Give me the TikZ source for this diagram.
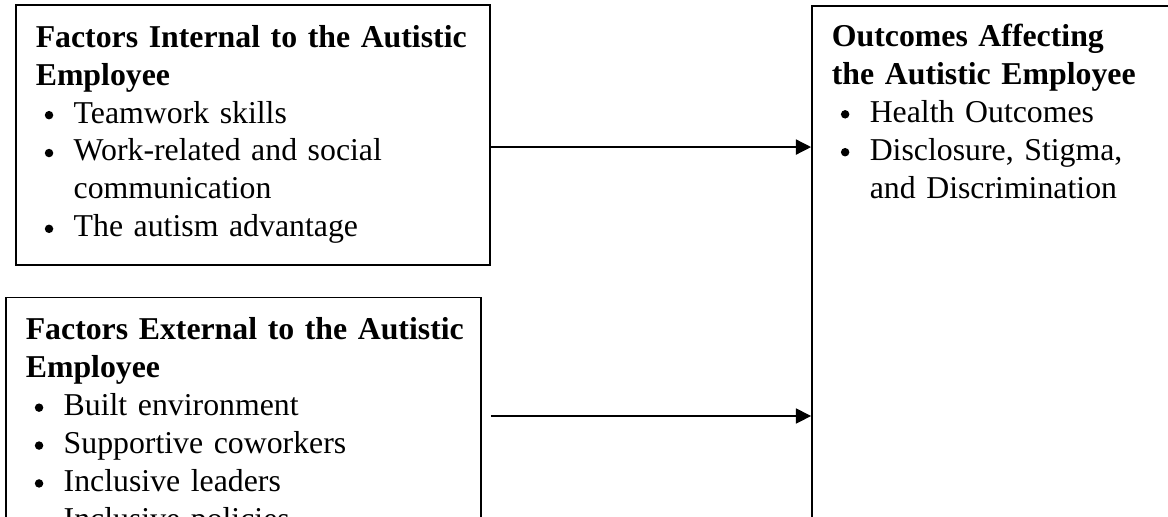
\documentclass[tikz,border=0pt]{standalone}
\usepackage{fontspec}
\setmainfont{Liberation Serif}
\usetikzlibrary{arrows.meta}
\setlength{\parindent}{0pt}

% bullet line with hanging indent
\newcommand{\bitem}[1]{\par\noindent\hangindent=14.3pt\hangafter=1%
  \hspace*{3.4pt}\makebox[10.9pt][l]{\tikz[baseline=0pt]\fill (1.6pt,3pt) circle (1.6pt);}#1\par}
\newcommand{\boxhead}[1]{\textbf{#1}}
\newcommand{\nohyph}{\hyphenpenalty=10000\relax}

\tikzset{
  factbox/.style={draw, line width=0.7pt, anchor=north west,
    inner xsep=7.5pt, inner ysep=0pt, text height=16pt,
    execute at begin node={\raggedright\nohyph},
    font=\fontsize{12pt}{14.3pt}\selectfont},
  arr/.style={-{Triangle[length=5.7pt,width=5.7pt]}, line width=0.5pt}
}

\begin{document}
\begin{tikzpicture}[x=1pt,y=-1pt]
  \useasboundingbox (0,0) rectangle (440.8,195.1);
  \clip (0,0) rectangle (440.8,195.1);

  % boxes
  \node[factbox, text width=163.9pt, text depth=82pt] (internal) at (5.66,1.51) {%
    \boxhead{\mbox{Factors Internal to the Autistic}\newline Employee}
    \bitem{Teamwork skills}
    \bitem{Work-related and social\newline communication}
    \bitem{The autism advantage}};
  \node[factbox, text width=164.2pt, text depth=90pt] (external) at (1.89,111.9) {%
    \boxhead{\mbox{Factors External to the Autistic}\newline Employee}
    \bitem{Built environment}
    \bitem{Supportive coworkers}
    \bitem{Inclusive leaders}
    \bitem{Inclusive policies}};
  \node[factbox, text width=150pt, text height=15.3pt, text depth=200pt] (outcomes) at (306.1,1.89) {%
    \boxhead{Outcomes Affecting\newline the Autistic Employee}
    \bitem{Health Outcomes}
    \bitem{Disclosure, Stigma,\newline and Discrimination}};

  % arrows
  \coordinate (from1) at (internal.east |- 0,55.5);
  \coordinate (from2) at (internal.east |- 0,157);
  \draw[arr] (from1) -- (from1 -| outcomes.west);
  \draw[arr] (from2) -- (from2 -| outcomes.west);
\end{tikzpicture}
\end{document}
